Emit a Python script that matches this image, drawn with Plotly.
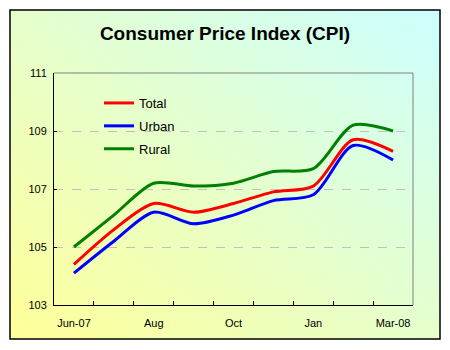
import base64
import plotly.graph_objects as go

categories = ["Jun-07", "Jul", "Aug", "Sep", "Oct", "Nov", "Jan", "Feb", "Mar-08"]
tick_labels = ["Jun-07", "", "Aug", "", "Oct", "", "Jan", "", "Mar-08"]
total = [104.4, 105.6, 106.5, 106.2, 106.5, 106.9, 107.1, 108.7, 108.3]
urban = [104.1, 105.2, 106.2, 105.8, 106.1, 106.6, 106.8, 108.5, 108.0]
rural = [105.0, 106.1, 107.2, 107.1, 107.2, 107.6, 107.7, 109.2, 109.0]

W, H = 450, 350
L, R, T, B = 54, 37, 73, 45
pw, ph = W - L - R, H - T - B

def px_x(p):
    return (p - L) / pw

def px_y(p):
    return (H - B - p) / ph

FONT = "Liberation Sans, Arial, sans-serif"

fig = go.Figure()
series = [("Total", total, "#FF0000"), ("Urban", urban, "#0000FF"), ("Rural", rural, "#008000")]
for name, vals, col in series:
    fig.add_trace(go.Scatter(
        x=categories, y=vals, name=name, mode="lines",
        line=dict(color=col, width=3, shape="spline", smoothing=0.8),
        legendgroup=name,
    ))

svg = ('<svg xmlns="http://www.w3.org/2000/svg" width="430" height="329" preserveAspectRatio="none">'
       '<defs><linearGradient id="g" x1="0" y1="1" x2="1" y2="0">'
       '<stop offset="0" stop-color="#FFFF99"/><stop offset="1" stop-color="#CCFFFF"/>'
       '</linearGradient></defs><rect width="430" height="329" fill="url(#g)"/></svg>')
src = "data:image/svg+xml;base64," + base64.b64encode(svg.encode()).decode()

bx0, bx1, by0, by1 = px_x(10), px_x(440), px_y(339), px_y(10)
fig.add_layout_image(dict(source=src, xref="paper", yref="paper", x=bx0, y=by1,
                          sizex=bx1 - bx0, sizey=by1 - by0, xanchor="left", yanchor="top",
                          sizing="stretch", layer="below"))
fig.add_shape(type="rect", xref="paper", yref="paper", x0=bx0, x1=bx1, y0=by0, y1=by1,
              line=dict(color="black", width=1.5), layer="below")
fig.add_shape(type="line", xref="paper", yref="paper", x0=0, x1=1, y0=1, y1=1,
              line=dict(color="#808080", width=1))
fig.add_shape(type="line", xref="paper", yref="paper", x0=1, x1=1, y0=0, y1=1,
              line=dict(color="#808080", width=1))

fig.update_layout(
    width=W, height=H,
    margin=dict(l=L, r=R, t=T, b=B, autoexpand=False),
    paper_bgcolor="white", plot_bgcolor="rgba(0,0,0,0)",
    font=dict(family=FONT, size=11, color="black"),
    title=dict(text="<b>Consumer Price Index (CPI)</b>", x=0.5, xanchor="center",
               y=1 - 33 / H, yanchor="middle", font=dict(size=19, color="black", family=FONT)),
    legend=dict(x=px_x(99), y=px_y(88), xanchor="left", yanchor="top",
                bgcolor="rgba(0,0,0,0)", font=dict(size=13, family=FONT),
                tracegroupgap=3, traceorder="grouped"),
    showlegend=True,
)
fig.update_xaxes(type="category", tickmode="array", tickvals=categories, ticktext=tick_labels,
                 tickson="boundaries", ticks="inside", ticklen=4, tickcolor="black",
                 showline=True, linecolor="black", linewidth=1, showgrid=False,
                 zeroline=False, range=[-0.5, 8.5], ticklabelstandoff=8, tickangle=0,
                 automargin=False, tickfont=dict(size=11))
fig.update_yaxes(range=[103, 111], tickmode="array", tickvals=[103, 105, 107, 109, 111],
                 ticks="inside", ticklen=3, tickcolor="black",
                 showline=True, linecolor="black", linewidth=1,
                 showgrid=True, gridcolor="#C0C0C0", griddash="dash", gridwidth=1,
                 zeroline=False, ticklabelstandoff=4, automargin=False,
                 tickfont=dict(size=11))

fig.write_html("out.html")
